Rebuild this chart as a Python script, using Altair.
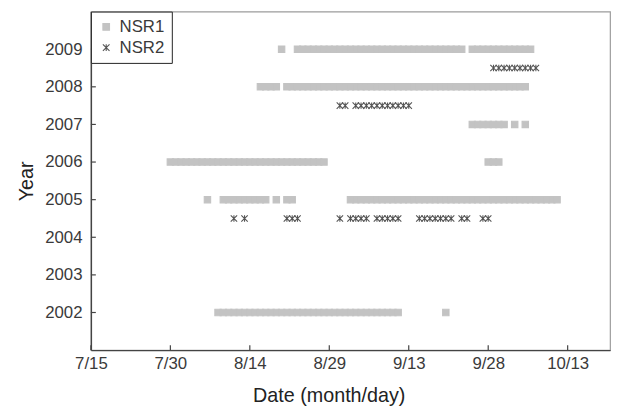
import altair as alt
import pandas as pd
from datetime import date

# ---- data (month/day of each observation) ----
NSR1_2009 = ["8/20",
             "8/23", "8/24", "8/25", "8/26", "8/27", "8/28", "8/29", "8/30", "8/31",
             "9/1", "9/2", "9/3", "9/4", "9/5", "9/6", "9/7", "9/8", "9/9", "9/10", "9/11", "9/12",
             "9/13", "9/14", "9/15", "9/16", "9/17", "9/18", "9/19", "9/20", "9/21", "9/22", "9/23",
             "9/25", "9/26", "9/27", "9/28", "9/29", "9/30",
             "10/1", "10/2", "10/3", "10/4", "10/5", "10/6"]
NSR1_2008 = ["8/16", "8/17", "8/18", "8/19",
             "8/21", "8/22", "8/23", "8/24", "8/25", "8/26", "8/27", "8/28", "8/29", "8/30", "8/31",
             "9/1", "9/2", "9/3", "9/4", "9/5", "9/6", "9/7", "9/8", "9/9", "9/10", "9/11", "9/12",
             "9/13", "9/14", "9/15", "9/16", "9/17", "9/18", "9/19", "9/20", "9/21", "9/22", "9/23",
             "9/24", "9/25", "9/26", "9/27", "9/28", "9/29", "9/30",
             "10/1", "10/2", "10/3", "10/4", "10/5"]
NSR1_2007 = ["9/25", "9/26", "9/27", "9/28", "9/29", "9/30", "10/1", "10/3", "10/5"]
NSR1_2006 = ["7/30", "7/31",
             "8/1", "8/2", "8/3", "8/4", "8/5", "8/6", "8/7", "8/8", "8/9", "8/10", "8/11", "8/12",
             "8/13", "8/14", "8/15", "8/16", "8/17", "8/18", "8/19", "8/20", "8/21", "8/22", "8/23",
             "8/24", "8/25", "8/26", "8/27", "8/28",
             "9/28", "9/29", "9/30"]
NSR1_2005 = ["8/6",
             "8/9", "8/10", "8/11", "8/12", "8/13", "8/14", "8/15", "8/16", "8/17",
             "8/19", "8/21", "8/22",
             "9/2", "9/3", "9/4", "9/5", "9/6", "9/7", "9/8", "9/9", "9/10", "9/11", "9/12", "9/13",
             "9/14", "9/15", "9/16", "9/17", "9/18", "9/19", "9/20", "9/21", "9/22", "9/23", "9/24",
             "9/25", "9/26", "9/27", "9/28", "9/29", "9/30",
             "10/1", "10/2", "10/3", "10/4", "10/5", "10/6", "10/7", "10/8", "10/9", "10/10", "10/11"]
NSR1_2002 = ["8/8", "8/9", "8/10", "8/11", "8/12", "8/13", "8/14", "8/15", "8/16", "8/17", "8/18",
             "8/19", "8/20", "8/21", "8/22", "8/23", "8/24", "8/25", "8/26", "8/27", "8/28", "8/29",
             "8/30", "8/31",
             "9/1", "9/2", "9/3", "9/4", "9/5", "9/6", "9/7", "9/8", "9/9", "9/10", "9/11",
             "9/20"]

NSR2_2009 = ["9/29", "9/30", "10/1", "10/2", "10/3", "10/4", "10/5", "10/6", "10/7"]
NSR2_2008 = ["8/31", "9/1",
             "9/3", "9/4", "9/5", "9/6", "9/7", "9/8", "9/9", "9/10", "9/11", "9/12", "9/13"]
NSR2_2005 = ["8/11", "8/13",
             "8/21", "8/22", "8/23",
             "8/31",
             "9/2", "9/3", "9/4", "9/5",
             "9/7", "9/8", "9/9", "9/10", "9/11",
             "9/15", "9/16", "9/17", "9/18", "9/19", "9/20", "9/21",
             "9/23", "9/24",
             "9/27", "9/28"]

NSR1 = {2009: NSR1_2009, 2008: NSR1_2008, 2007: NSR1_2007,
        2006: NSR1_2006, 2005: NSR1_2005, 2002: NSR1_2002}
NSR2 = {2009: NSR2_2009, 2008: NSR2_2008, 2005: NSR2_2005}

X_TICK_LABELS = ["7/15", "7/30", "8/14", "8/29", "9/13", "9/28", "10/13"]
Y_TICKS = [2002, 2003, 2004, 2005, 2006, 2007, 2008, 2009]

START = date(2001, 7, 15)


def day(s):
    m, d = map(int, s.split("/"))
    return (date(2001, m, d) - START).days


rows = []
for yr, ds in NSR1.items():
    for s in ds:
        rows.append({"series": "NSR1", "year": yr, "row": yr, "day": day(s)})
for yr, ds in NSR2.items():
    for s in ds:
        rows.append({"series": "NSR2", "year": yr, "row": yr - 0.5, "day": day(s)})
df = pd.DataFrame(rows)

xticks_df = pd.DataFrame({"day": [day(s) for s in X_TICK_LABELS]})
yticks_df = pd.DataFrame({"row": Y_TICKS})

W, H = 526, 343
FONT = "Liberation Sans"

x_scale = alt.Scale(domain=[0, 98], nice=False, zero=False)
y_scale = alt.Scale(domain=[2001, 2010], nice=False, zero=False)
x_axis = alt.Axis(values=[day(s) for s in X_TICK_LABELS],
                  labelExpr="timeFormat(datetime(2001, 6, 15 + datum.value), '%-m/%-d')",
                  title="Date (month/day)", labelPadding=6, labelFlush=False,
                  titleX=241, titleY=46, titleBaseline="middle")
y_axis = alt.Axis(values=Y_TICKS, format="d", title="Year", labelPadding=9,
                  titleX=-65, titleY=H / 2, titleBaseline="middle", titleAngle=-90)

ASTER = "M-1,-1L1,1M-1,1L1,-1M0,-1L0,1"

points = alt.Chart(df).mark_point(size=42, strokeWidth=1.1, opacity=1).encode(
    x=alt.X("day:Q", scale=x_scale, axis=x_axis),
    y=alt.Y("row:Q", scale=y_scale, axis=y_axis),
    shape=alt.Shape("series:N", scale=alt.Scale(domain=["NSR1", "NSR2"], range=["square", ASTER]),
                    legend=alt.Legend(title=None)),
    fill=alt.Fill("series:N", scale=alt.Scale(domain=["NSR1", "NSR2"], range=["#c3c3c3", "transparent"]),
                  legend=alt.Legend(title=None)),
    stroke=alt.Stroke("series:N", scale=alt.Scale(domain=["NSR1", "NSR2"], range=["#c3c3c3", "#555555"]),
                      legend=alt.Legend(title=None)),
)

xt = alt.Chart(xticks_df).mark_rule(color="#444", strokeWidth=1.2).encode(
    x=alt.X("day:Q", scale=x_scale, axis=x_axis),
    y=alt.value(H), y2=alt.value(H - 5),
)
yt = alt.Chart(yticks_df).mark_rule(color="#444", strokeWidth=1.2).encode(
    y=alt.Y("row:Q", scale=y_scale, axis=y_axis),
    x=alt.value(0), x2=alt.value(5),
)

chart = alt.layer(points, xt, yt).properties(
    width=W, height=H,
    autosize=alt.AutoSizeParams(type="none"),
    padding={"left": 84, "top": 1, "right": 3, "bottom": 55},
).configure_view(
    stroke="#9c9c9c", strokeWidth=1.2
).configure_axis(
    grid=False, ticks=False, tickSize=0,
    domainColor="#444", domainWidth=1.4,
    labelFont=FONT, labelFontSize=17, labelColor="#3a3a3a",
    titleFont=FONT, titleFontSize=20, titleFontWeight="normal", titleColor="#222",
).configure_legend(
    orient="none", legendX=0, legendY=0,
    strokeColor="#222", fillColor="white", padding=7,
    labelFont=FONT, labelFontSize=17, labelColor="#3a3a3a",
    symbolSize=45, symbolStrokeWidth=1.1, rowPadding=3, labelOffset=5,
)

chart.save("out.html", embed_options={"renderer": "svg", "actions": False})
